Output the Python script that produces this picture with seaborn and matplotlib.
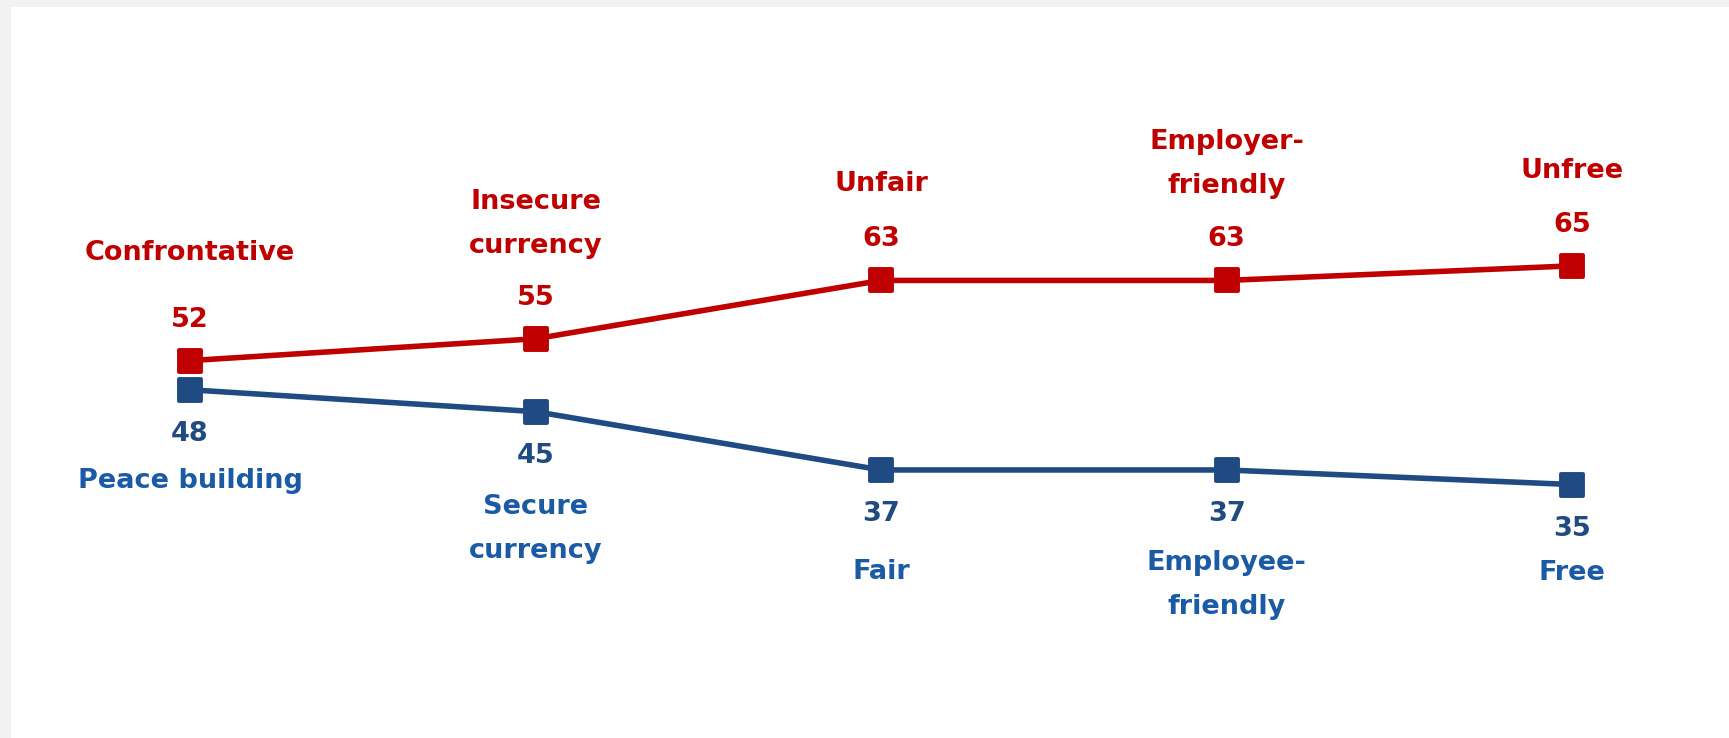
import pandas as pd
import seaborn as sns
import matplotlib.pyplot as plt
from matplotlib.markers import MarkerStyle
from matplotlib.patches import Rectangle

# positions along the chart
steps = [0, 1, 2, 3, 4]
neg_labels = ["Confrontative", "Insecure\ncurrency", "Unfair", "Employer-\nfriendly", "Unfree"]
neg_values = [52, 55, 63, 63, 65]
pos_labels = ["Peace building", "Secure\ncurrency", "Fair", "Employee-\nfriendly", "Free"]
pos_values = [48, 45, 37, 37, 35]

RED = "#C00000"
NAVY = "#1F4A82"
BLUE_TXT = "#1B5AA5"

# label offsets from markers, in pixels (layout only)
neg_lab_off = [108, 115, 96, 116, 95]
pos_lab_off = [91, 117, 102, 115, 88]

sns.set_style("white")
plt.rcParams['font.family'] = ['DejaVu Sans']

fig = plt.figure(figsize=(17.29, 7.38), dpi=100, facecolor="#f2f2f2")
ax = fig.add_axes([0, 0, 1, 1])
ax.set_facecolor("none")
# white card behind the chart
ax.add_patch(Rectangle((11 / 1729, 0), 1, (738 - 7) / 738, transform=fig.transFigure,
                       facecolor="white", edgecolor="none", zorder=-5, clip_on=False))

df_neg = pd.DataFrame({"step": steps, "value": neg_values})
df_pos = pd.DataFrame({"step": steps, "value": pos_values})

mk = MarkerStyle("s", joinstyle="round")
sns.lineplot(data=df_neg, x="step", y="value", ax=ax, color=RED, linewidth=4.0,
             marker=mk, markersize=15.5, markeredgewidth=2.8, markeredgecolor=RED)
sns.lineplot(data=df_pos, x="step", y="value", ax=ax, color=NAVY, linewidth=4.0,
             marker=mk, markersize=15.5, markeredgewidth=2.8, markeredgecolor=NAVY)

fs = 19.5
for x, v, lab, off in zip(steps, neg_values, neg_labels, neg_lab_off):
    ax.annotate(str(v), (x, v), xytext=(0, 41), textcoords="offset pixels",
                ha="center", va="center", color=RED, fontsize=fs, fontweight="bold")
    ax.annotate(lab, (x, v), xytext=(0, off), textcoords="offset pixels",
                ha="center", va="center", color=RED, fontsize=fs, fontweight="bold",
                linespacing=1.9)
for x, v, lab, off in zip(steps, pos_values, pos_labels, pos_lab_off):
    ax.annotate(str(v), (x, v), xytext=(0, -44), textcoords="offset pixels",
                ha="center", va="center", color=NAVY, fontsize=fs, fontweight="bold")
    ax.annotate(lab, (x, v), xytext=(0, -off), textcoords="offset pixels",
                ha="center", va="center", color=BLUE_TXT, fontsize=fs, fontweight="bold",
                linespacing=1.9)

ax.set_xlim(-0.55, 4.454)
ax.set_ylim(0.23, 101.47)
ax.axis("off")

fig.savefig("out.png", dpi=100, facecolor=fig.get_facecolor())
